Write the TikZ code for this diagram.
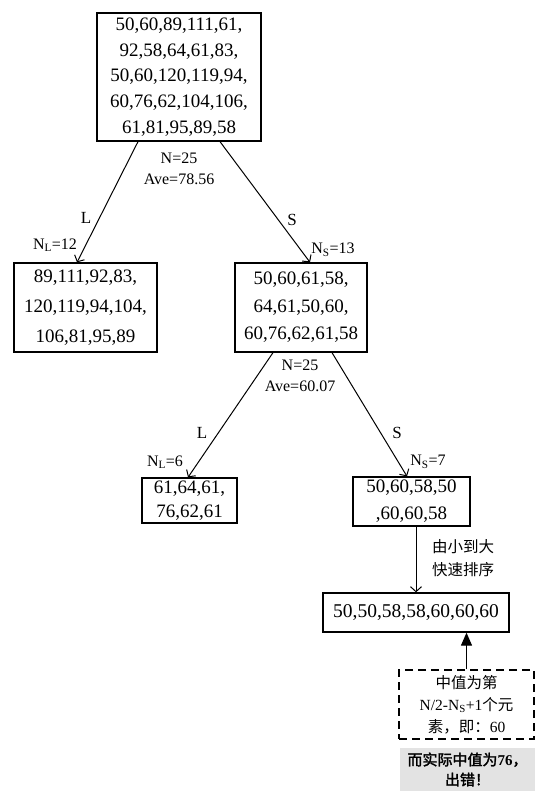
\documentclass[tikz,border=0pt]{standalone}
\usepackage{fontspec}
\setmainfont{Liberation Serif}
\newfontfamily\cjk{Noto Sans CJK SC}
\newfontfamily\cjkb[FakeBold=2]{Noto Sans CJK SC}
\usetikzlibrary{arrows.meta,calc}
\begin{document}
\begin{tikzpicture}[x=1pt,y=-1pt,
 box/.style={draw,line width=1.3pt,inner sep=0pt,align=center},
 lab/.style={font=\fontsize{16}{21}\selectfont,inner sep=0pt,align=center},
 conn/.style={line width=1pt,-{Straight Barb[length=5pt,width=11pt]}}]
\useasboundingbox (0,0) rectangle (535,791);
% boxes
\node[box,minimum width=164pt,minimum height=128pt,font=\fontsize{19}{25.8}\selectfont] (top) at (179,77)
 {50,60,89,111,61,\\92,58,64,61,83,\\50,60,120,119,94,\\60,76,62,104,106,\\61,81,95,89,58};
\node[box,minimum width=143pt,minimum height=89pt,font=\fontsize{19}{29.7}\selectfont] (lft) at (85.5,307.5)
 {89,111,92,83,\\120,119,94,104,\\106,81,95,89};
\node[box,minimum width=132pt,minimum height=89pt,font=\fontsize{19}{27.5}\selectfont] (mid) at (301,307.5)
 {50,60,61,58,\\64,61,50,60,\\60,76,62,61,58};
\node[box,minimum width=95pt,minimum height=45pt,font=\fontsize{19}{24.5}\selectfont] (l2) at (189.5,500.5)
 {61,64,61,\\76,62,61};
\node[box,minimum width=117pt,minimum height=49pt,font=\fontsize{19}{27}\selectfont] (s2) at (411.5,501.5)
 {50,60,58,50\\,60,60,58};
\node[box,minimum width=186pt,minimum height=39pt,font=\fontsize{19.5}{25}\selectfont] (sorted) at (416,612.5)
 {50,50,58,58,60,60,60};
\node[box,line width=1.2pt,dash pattern=on 8pt off 5pt,minimum width=135pt,minimum height=69pt,font=\fontsize{15.5}{22}\selectfont] (dash) at (466.5,704.5)
 {\cjk 中值为第\\N/2-N\textsubscript{S}+1{\cjk 个元}\\{\cjk 素，即：}60};
\node[fill=gray!22,inner sep=0pt,align=center,minimum width=135pt,minimum height=43pt,font=\fontsize{15}{20}\selectfont] (gray) at (467.5,769.5)
 {\cjkb 而实际中值为{\rmfamily\bfseries 76}，\\\cjkb 出错！};
% connectors
\draw[conn] ($(top.south)+(-41,0)$) -- ($(lft.north)+(-8.5,0)$);
\draw[conn] ($(top.south)+(41,0)$) -- ($(mid.north)+(9,0)$);
\draw[conn] ($(mid.south)+(-28,0)$) -- ($(l2.north)+(-1.5,0)$);
\draw[conn] ($(mid.south)+(31,0)$) -- ($(s2.north)+(-4.5,0)$);
\draw[conn] (s2.south -| sorted.north) -- (sorted.north);
\draw[line width=1.2pt,-{Triangle[length=13pt,width=11pt]}] (dash.north) -- (dash.north |- sorted.south);
% labels
\node[lab] (n1) at (179,158) {N=25};
\node[lab] (a1) at (179,179) {Ave=78.56};
\node[lab,font=\fontsize{17}{20}\selectfont] (L1) at (86,218) {L};
\node[lab,font=\fontsize{17}{20}\selectfont] (S1) at (292,220) {S};
\node[lab] (nl1) at (55,245) {N\textsubscript{L}=12};
\node[lab] (ns1) at (333,250) {N\textsubscript{S}=13};
\node[lab] (n2) at (300,365) {N=25};
\node[lab] (a2) at (300,386) {Ave=60.07};
\node[lab,font=\fontsize{17}{20}\selectfont] (L2) at (202,433) {L};
\node[lab,font=\fontsize{17}{20}\selectfont] (S2) at (397,433) {S};
\node[lab] (nl2) at (165,462) {N\textsubscript{L}=6};
\node[lab] (ns2) at (428,462) {N\textsubscript{S}=7};
\node[lab,font=\fontsize{15.5}{23}\selectfont\cjk] (sortlab) at (463,558) {由小到大\\快速排序};
\end{tikzpicture}
\end{document}
